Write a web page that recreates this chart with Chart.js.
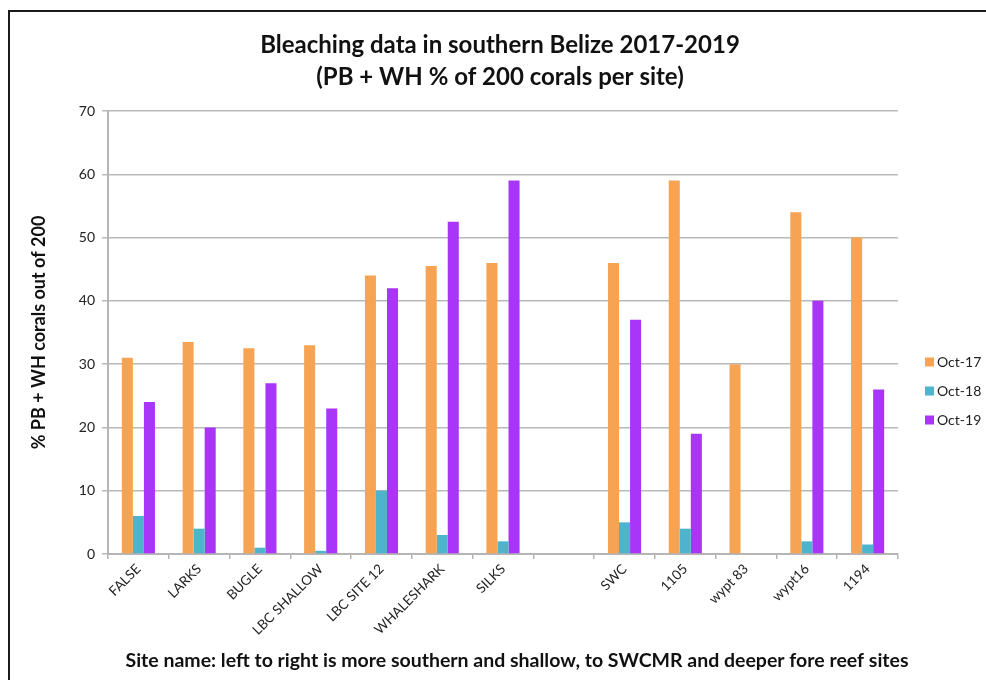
<!DOCTYPE html>
<html>
<head>
<meta charset="utf-8">
<title>Bleaching data in southern Belize 2017-2019</title>
<script src="https://cdn.jsdelivr.net/npm/chart.js@4/dist/chart.umd.min.js"></script>
<style>
  html, body { margin: 0; padding: 0; background: #ffffff; overflow: hidden; }
  #wrap { position: relative; width: 986px; height: 680px; }
</style>
</head>
<body>
<div id="wrap"><canvas id="chart" width="986" height="680"></canvas></div>
<script>
// Survey sites, south/shallow on the left to SWCMR / deeper fore reef on the right
const sites = ['FALSE', 'LARKS', 'BUGLE', 'LBC SHALLOW', 'LBC SITE 12', 'WHALESHARK', 'SILKS', '',
               'SWC', '1105', 'wypt 83', 'wypt16', '1194'];

// PB + WH % of 200 corals per site
const oct17 = [31, 33.5, 32.5, 33, 44, 45.5, 46, null, 46, 59, 30, 54, 50];
const oct18 = [6, 4, 1, 0.5, 10, 3, 2, null, 5, 4, null, 2, 1.5];
const oct19 = [24, 20, 27, 23, 42, 52.5, 59, null, 37, 19, null, 40, 26];

const seriesNames = ['Oct-17', 'Oct-18', 'Oct-19'];
const seriesColors = ['#F6A354', '#4EB3CC', '#A935F8'];

const yTicks = [0, 10, 20, 30, 40, 50, 60, 70];

const titleLines = ['Bleaching data in southern Belize 2017-2019', '(PB + WH % of 200 corals per site)'];
const xTitle = 'Site name: left to right is more southern and shallow, to SWCMR and deeper fore reef sites';
const yTitle = '% PB + WH corals out of 200';

const FONT = 'Lato, "Open Sans", sans-serif';

// Outer frame, headings and the legend
const decorations = {
  id: 'decorations',
  beforeDraw(chart) {
    const ctx = chart.ctx;
    ctx.save();
    ctx.strokeStyle = '#1a1a1a';
    ctx.lineWidth = 2;
    ctx.beginPath();
    ctx.moveTo(9, 690);
    ctx.lineTo(9, 11);
    ctx.lineTo(990, 11);
    ctx.stroke();
    ctx.restore();
  },
  afterDraw(chart) {
    const ctx = chart.ctx;
    ctx.save();
    ctx.fillStyle = '#111111';
    ctx.textAlign = 'center';
    ctx.textBaseline = 'middle';
    ctx.font = 'bold 24px ' + FONT;
    ctx.fillText(titleLines[0], 500, 45);
    ctx.fillText(titleLines[1], 500, 77);

    ctx.font = 'bold 19.5px ' + FONT;
    ctx.fillText(xTitle, 517, 661);

    // legend built from the datasets
    ctx.font = '14px ' + FONT;
    ctx.textAlign = 'left';
    chart.data.datasets.forEach((ds, i) => {
      const y = 362 + i * 29;
      ctx.fillStyle = ds.backgroundColor;
      ctx.fillRect(925, y - 4.5, 9, 9);
      ctx.fillStyle = '#222222';
      ctx.fillText(ds.label, 937, y + 0.5);
    });
    ctx.restore();
  }
};

const datasets = [oct17, oct18, oct19].map((vals, i) => ({
  label: seriesNames[i],
  data: vals,
  backgroundColor: seriesColors[i],
  borderWidth: 0,
  categoryPercentage: 0.545,
  barPercentage: 1.0
}));

new Chart(document.getElementById('chart'), {
  type: 'bar',
  data: { labels: sites, datasets },
  plugins: [decorations],
  options: {
    responsive: false,
    animation: false,
    layout: { padding: { top: 111, left: 0, right: 88, bottom: 0 } },
    plugins: {
      legend: { display: false },
      title: { display: false },
      tooltip: { enabled: false }
    },
    scales: {
      x: {
        afterFit(scale) { scale.height = 126; },
        grid: {
          display: true,
          drawOnChartArea: false,
          drawTicks: true,
          tickLength: 5,
          offset: true,
          color: '#b5b5b5',
          lineWidth: 1.5
        },
        border: { color: '#b5b5b5', width: 2 },
        ticks: {
          minRotation: 45,
          maxRotation: 45,
          autoSkip: false,
          padding: 2,
          color: '#222222',
          font: { family: FONT, size: 13.5 }
        }
      },
      y: {
        min: 0,
        max: 70,
        afterFit(scale) { scale.width = 108; },
        afterBuildTicks(scale) { scale.ticks = yTicks.map(v => ({ value: v })); },
        grid: {
          color: '#b9b9b9',
          lineWidth: 1.5,
          tickLength: 6
        },
        border: { color: '#b5b5b5', width: 2 },
        ticks: {
          padding: 7,
          color: '#222222',
          font: { family: FONT, size: 14 }
        },
        title: {
          display: true,
          text: yTitle,
          color: '#111111',
          font: { family: FONT, size: 18, weight: 'bold' },
          padding: { top: 28, bottom: 0 }
        }
      }
    }
  }
});
</script>
</body>
</html>
